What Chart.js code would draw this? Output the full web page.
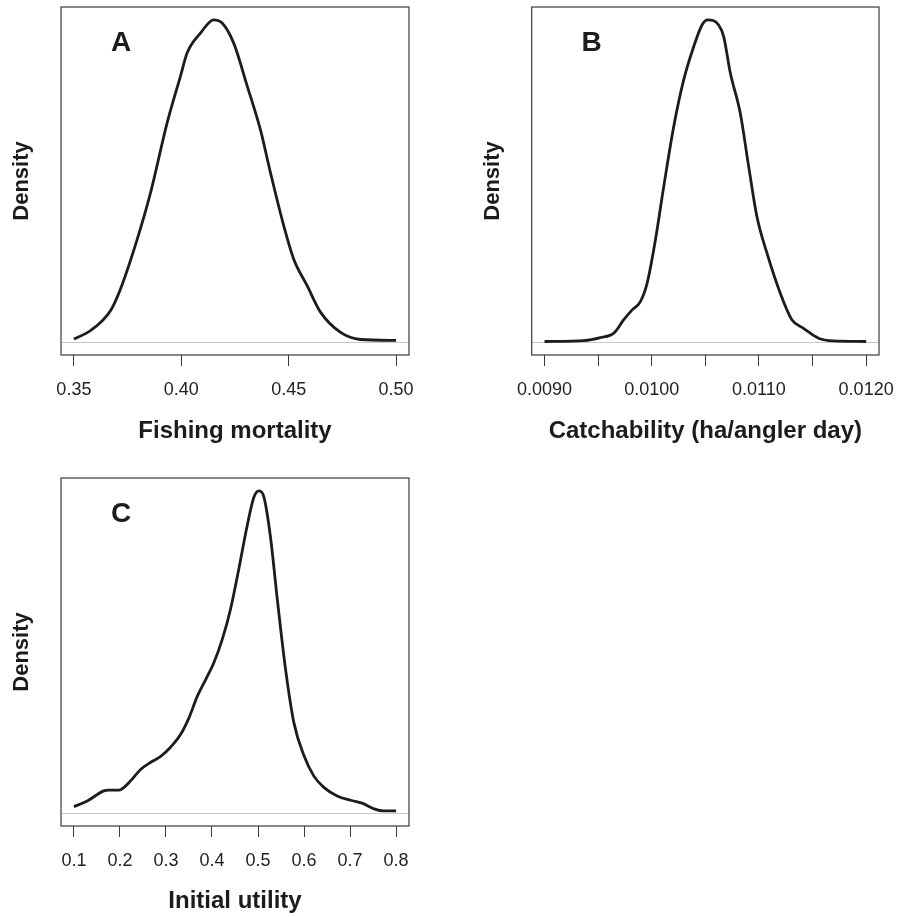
<!DOCTYPE html>
<html>
<head>
<meta charset="utf-8">
<script src="https://cdn.jsdelivr.net/npm/chart.js@4.4.0/dist/chart.umd.min.js"></script>
<style>
  body { margin: 0; background: #fff; }
  #wrap { position: relative; width: 898px; height: 917px; }
  canvas { position: absolute; }
</style>
</head>
<body>
<div id="wrap">
  <canvas id="panelA" width="449" height="460" style="left:0;top:0"></canvas>
  <canvas id="panelB" width="449" height="460" style="left:449px;top:0"></canvas>
  <canvas id="panelC" width="449" height="457" style="left:0;top:460px"></canvas>
</div>
<script>
// A: fishing mortality
const mortalityX = [0.350, 0.3578, 0.3671, 0.3717, 0.3795, 0.3857, 0.3934, 0.3996, 0.4027, 0.4089, 0.4151, 0.419, 0.4244, 0.4307, 0.4368, 0.4415, 0.4477, 0.4523, 0.4586, 0.4648, 0.474, 0.4834, 0.500];
const mortalityDensity = [0.17, 0.62, 1.69, 2.84, 5.50, 7.98, 11.70, 14.19, 15.43, 16.49, 17.20, 17.03, 15.96, 13.66, 11.35, 9.05, 6.21, 4.44, 3.01, 1.60, 0.53, 0.14, 0.09];
const mortalityTicks = [0.35, 0.40, 0.45, 0.50];
const mortalityLabels = ["0.35", "0.40", "0.45", "0.50"];

// B: catchability
const catchX = [0.0090, 0.009366, 0.009522, 0.009646, 0.009739, 0.009817, 0.009894, 0.009957, 0.010034, 0.010112, 0.010205, 0.010298, 0.010391, 0.010469, 0.010522, 0.010624, 0.010671, 0.010733, 0.010826, 0.010904, 0.010981, 0.011075, 0.011199, 0.011307, 0.011416, 0.011556, 0.011696, 0.0120];
const catchDensity = [2, 5, 15, 30, 75, 108, 136, 198, 342, 522, 723, 879, 990, 1063, 1080, 1063, 1024, 902, 767, 589, 421, 298, 164, 75, 46, 13, 4, 2];
const catchTicks = [0.0090, 0.0095, 0.0100, 0.0105, 0.0110, 0.0115, 0.0120];
const catchLabels = ["0.0090", "", "0.0100", "", "0.0110", "", "0.0120"];

// C: initial utility
const utilityX = [0.1, 0.129, 0.165, 0.176, 0.198, 0.209, 0.223, 0.245, 0.267, 0.288, 0.310, 0.332, 0.350, 0.368, 0.386, 0.404, 0.422, 0.440, 0.458, 0.476, 0.491, 0.502, 0.513, 0.527, 0.542, 0.560, 0.578, 0.600, 0.621, 0.643, 0.672, 0.701, 0.726, 0.752, 0.773, 0.80];
const utilityDensity = [0.09, 0.17, 0.31, 0.32, 0.32, 0.36, 0.45, 0.61, 0.71, 0.79, 0.92, 1.10, 1.33, 1.63, 1.86, 2.10, 2.42, 2.84, 3.40, 4.00, 4.41, 4.50, 4.41, 3.86, 2.98, 2.00, 1.26, 0.80, 0.52, 0.36, 0.24, 0.18, 0.14, 0.06, 0.03, 0.03];
const utilityTicks = [0.1, 0.2, 0.3, 0.4, 0.5, 0.6, 0.7, 0.8];
const utilityLabels = ["0.1", "0.2", "0.3", "0.4", "0.5", "0.6", "0.7", "0.8"];

const FONT = '"Liberation Sans", Arial, Helvetica, sans-serif';
const INK = '#1c1c1c';

// box around plot region + panel letter
const boxPlugin = {
    id: 'boxPlugin',
    afterDraw(chart, args, opts) {
        const a = chart.chartArea;
        const ctx = chart.ctx;
        ctx.save();
        ctx.strokeStyle = '#3a3a3a';
        ctx.lineWidth = 1.2;
        ctx.strokeRect(a.left, a.top, a.right - a.left, a.bottom - a.top);
        ctx.fillStyle = INK;
        ctx.font = 'bold 28px ' + FONT;
        ctx.textAlign = 'center';
        ctx.textBaseline = 'middle';
        ctx.fillText(opts.letter, a.left + 60, a.top + 36);
        ctx.restore();
    }
};

function makePanel(id, xs, ys, ticks, labels, xTitle, letter, geo) {
    const pts = xs.map((x, i) => ({ x: x, y: ys[i] }));
    const span = ticks[ticks.length - 1] - ticks[0];
    const peak = Math.max(...ys);

    return new Chart(document.getElementById(id), {
        type: 'line',
        data: {
            datasets: [{
                data: pts,
                borderColor: INK,
                borderWidth: 2.8,
                pointRadius: 0,
                fill: false,
                cubicInterpolationMode: 'monotone'
            }]
        },
        options: {
            responsive: false,
            animation: false,
            layout: { padding: { left: 0, right: geo.right, top: geo.top, bottom: 0 } },
            plugins: {
                legend: { display: false },
                tooltip: { enabled: false },
                boxPlugin: { letter: letter }
            },
            scales: {
                x: {
                    type: 'linear',
                    min: ticks[0] - 0.04 * span,
                    max: ticks[ticks.length - 1] + 0.04 * span,
                    afterBuildTicks: (scale) => { scale.ticks = ticks.map(v => ({ value: v })); },
                    afterFit: (scale) => {
                        scale.height = geo.axisH;
                        // labels may hang past the box, don't let them shrink it
                        scale.paddingLeft = 0;
                        scale.paddingRight = 0;
                    },
                    border: { display: false },
                    grid: { drawOnChartArea: false, drawTicks: true, tickLength: 11, color: '#3a3a3a', lineWidth: 1 },
                    ticks: {
                        autoSkip: false,
                        maxRotation: 0,
                        padding: 13,
                        color: '#222',
                        font: { family: FONT, size: 18 },
                        callback: (v, i) => labels[i]
                    },
                    title: {
                        display: true,
                        text: xTitle,
                        color: INK,
                        font: { family: FONT, size: 24, weight: 'bold' },
                        padding: { top: 0, bottom: geo.titlePad }
                    }
                },
                y: {
                    min: -0.04 * peak,
                    max: 1.04 * peak,
                    afterBuildTicks: (scale) => { scale.ticks = [{ value: 0 }]; },
                    afterFit: (scale) => { scale.width = geo.left; },
                    border: { display: false },
                    grid: { drawTicks: false, color: '#c8c8c8', lineWidth: 1 },
                    ticks: { display: false },
                    title: {
                        display: true,
                        text: 'Density',
                        color: INK,
                        font: { family: FONT, size: 22, weight: 'bold' },
                        padding: { top: geo.yTitlePad, bottom: 0 }
                    }
                }
            }
        },
        plugins: [boxPlugin]
    });
}

makePanel('panelA', mortalityX, mortalityDensity, mortalityTicks, mortalityLabels,
    'Fishing mortality', 'A', { left: 61, right: 40, top: 7, axisH: 105, titlePad: 14.6, yTitlePad: 8.8 });
makePanel('panelB', catchX, catchDensity, catchTicks, catchLabels,
    'Catchability (ha/angler day)', 'B', { left: 82.7, right: 19, top: 7, axisH: 105, titlePad: 14.6, yTitlePad: 30.8 });
makePanel('panelC', utilityX, utilityDensity, utilityTicks, utilityLabels,
    'Initial utility', 'C', { left: 61, right: 40, top: 18, axisH: 91, titlePad: 1.3, yTitlePad: 8.8 });
</script>
</body>
</html>
